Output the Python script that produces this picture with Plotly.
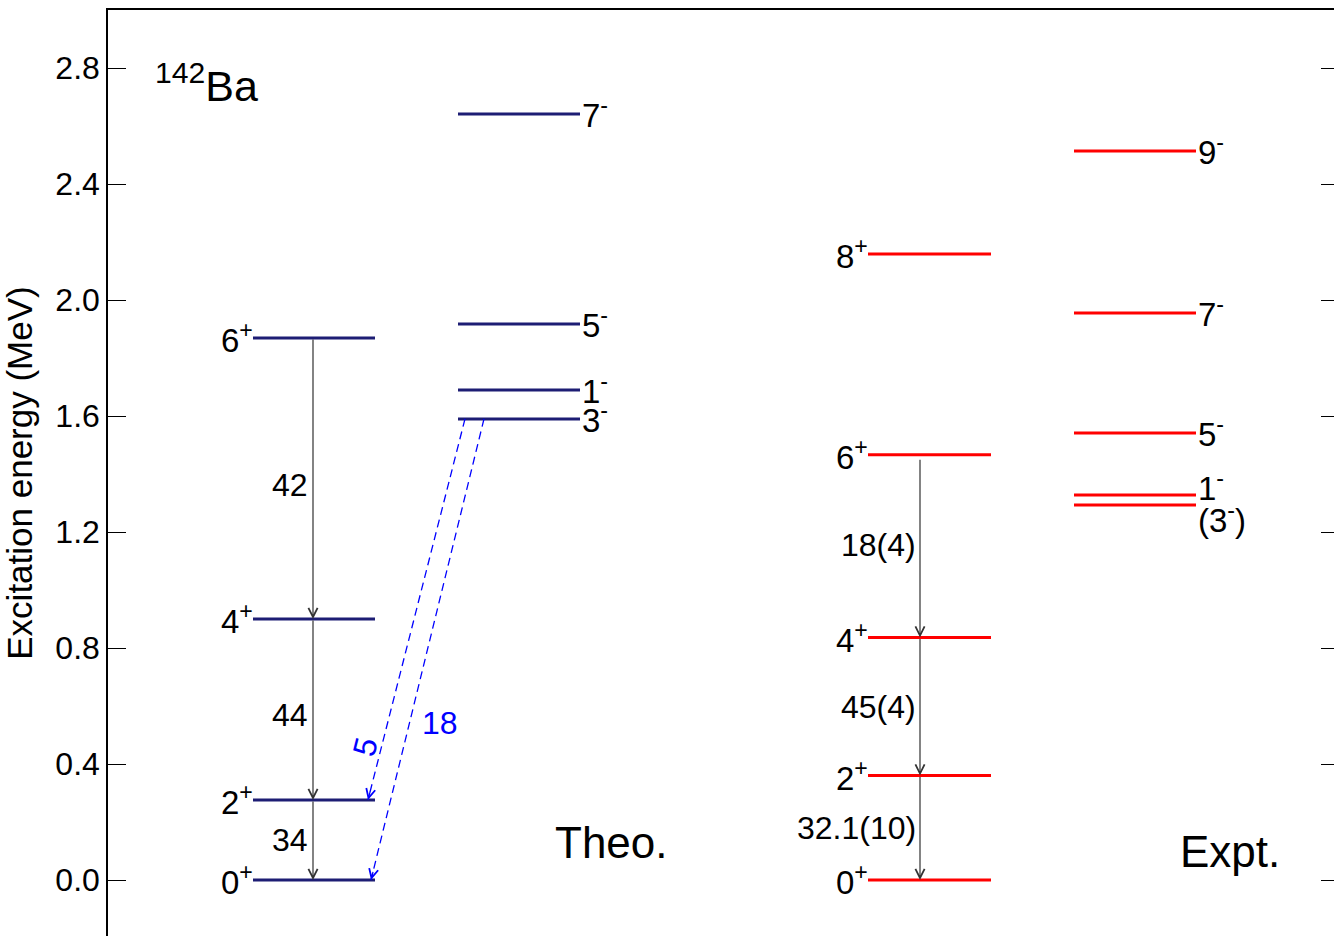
import math
import plotly.graph_objects as go

# ---------------- data ----------------
theo_gsb_spins = ["0", "2", "4", "6"]
theo_gsb_E = [0.0, 0.276, 0.900, 1.869]
theo_neg_spins = ["3", "1", "5", "7"]
theo_neg_E = [1.590, 1.690, 1.917, 2.641]

expt_gsb_spins = ["0", "2", "4", "6", "8"]
expt_gsb_E = [0.0, 0.360, 0.836, 1.466, 2.159]
expt_neg_spins = ["(3)", "1", "5", "7", "9"]
expt_neg_E = [1.293, 1.328, 1.541, 1.955, 2.514]

theo_BE2 = ["34", "44", "42"]            # 2+->0+, 4+->2+, 6+->4+
expt_BE2 = ["32.1(10)", "45(4)", "18(4)"]
theo_E1 = ["5", "18"]                    # 3- -> 2+, 3- -> 0+

y_ticks = [0.0, 0.4, 0.8, 1.2, 1.6, 2.0, 2.4, 2.8]
y_ticktext = ["0.0", "0.4", "0.8", "1.2", "1.6", "2.0", "2.4", "2.8"]

# ---------------- layout constants ----------------
W, H = 1334, 936
ML, MT = 108, 10
X_RANGE = [0, 12.26]
Y_RANGE = [-0.1931, 3.0]
PX_X = (W - ML) / (X_RANGE[1] - X_RANGE[0])
PX_Y = (H - MT) / (Y_RANGE[1] - Y_RANGE[0])

FONT = "Liberation Sans, Arial, Helvetica, sans-serif"
NAVY = "#1d1d74"
RED = "#ff0000"
BLUE = "#0000ff"
ARROW = "#333333"

COL_THEO_GSB = (1.45, 2.67)
COL_THEO_NEG = (3.50, 4.72)
COL_EXPT_GSB = (7.60, 8.83)
COL_EXPT_NEG = (9.66, 10.88)
X_THEO_ARR = 2.05
X_EXPT_ARR = 8.12

fig = go.Figure()
ann = []


def sup(spin, parity):
    if spin.startswith("("):
        return "(" + spin[1:-1] + "<sup>" + parity + "</sup>)"
    return spin + "<sup>" + parity + "</sup>"


def add_levels(energies, spins, col, color, parity, label_side, yshifts=None):
    for i, (e, s) in enumerate(zip(energies, spins)):
        fig.add_trace(go.Scatter(x=[col[0], col[1]], y=[e, e], mode="lines",
                                 line=dict(color=color, width=3),
                                 hoverinfo="skip", showlegend=False))
        ys = yshifts.get(s, 0) if yshifts else 0
        if label_side == "left":
            ann.append(dict(x=col[0], y=e, xref="x", yref="y", text=sup(s, parity),
                            showarrow=False, xanchor="right", yanchor="middle",
                            yshift=0 + ys, xshift=2,
                            font=dict(family=FONT, size=33, color="black")))
        else:
            ann.append(dict(x=col[1], y=e, xref="x", yref="y", text=sup(s, parity),
                            showarrow=False, xanchor="left", yanchor="middle",
                            yshift=1 + ys, xshift=0,
                            font=dict(family=FONT, size=33, color="black")))


add_levels(theo_gsb_E, theo_gsb_spins, COL_THEO_GSB, NAVY, "+", "left")
add_levels(theo_neg_E, theo_neg_spins, COL_THEO_NEG, NAVY, "-", "right")
add_levels(expt_gsb_E, expt_gsb_spins, COL_EXPT_GSB, RED, "+", "left")
add_levels(expt_neg_E, expt_neg_spins, COL_EXPT_NEG, RED, "-", "right",
           yshifts={"1": 8, "(3)": -14})


# E2 cascades (black arrows)
def cascade(energies, labels, xarr, start_gap, lab_gap, lab_shifts):
    for i in range(3):
        lo, hi = energies[i], energies[i + 1]
        tail = hi - (start_gap if i == 2 else 0)
        ann.append(dict(x=xarr, y=lo, ax=xarr, ay=tail, xref="x", yref="y",
                        axref="x", ayref="y", text="", showarrow=True,
                        arrowhead=5, arrowsize=1.5, arrowwidth=1.2,
                        arrowcolor=ARROW, standoff=0, startstandoff=0))
        ann.append(dict(x=xarr - lab_gap, y=(lo + hi) / 2, xref="x", yref="y",
                        text=labels[i], showarrow=False, xanchor="right",
                        yanchor="middle", yshift=lab_shifts[i],
                        font=dict(family=FONT, size=32, color="black")))


cascade(theo_gsb_E, theo_BE2, X_THEO_ARR, 0.0, 0.03, [0, -6, -6])
cascade(expt_gsb_E, expt_BE2, X_EXPT_ARR, 0.012, 0.02, [0, 0, 1])

# E1 transitions (blue dashed)
e3 = theo_neg_E[0]
starts = [COL_THEO_NEG[0] + 0.07, COL_THEO_NEG[0] + 0.26]
ends = [(COL_THEO_GSB[1] - 0.07, theo_gsb_E[1]), (COL_THEO_GSB[1] - 0.04, theo_gsb_E[0])]
for k in range(2):
    x0, y0 = starts[k], e3
    x1, y1 = ends[k]
    fig.add_trace(go.Scatter(x=[x0, x1], y=[y0, y1], mode="lines",
                             line=dict(color=BLUE, width=1.3, dash="8px,5px"),
                             hoverinfo="skip", showlegend=False))
    dxp = (x0 - x1) * PX_X
    dyp = -(y0 - y1) * PX_Y
    L = math.hypot(dxp, dyp)
    ann.append(dict(x=x1, y=y1, xref="x", yref="y", ax=dxp / L * 10, ay=dyp / L * 10,
                    text="", showarrow=True, arrowhead=5, arrowsize=1.5,
                    arrowwidth=1.2, arrowcolor=BLUE, standoff=0))

# E1 labels
ang = -math.degrees(math.atan2((e3 - theo_gsb_E[1]) * PX_Y,
                               (starts[0] - ends[0][0]) * PX_X))
ann.append(dict(x=2.57, y=0.46, xref="x", yref="y", text=theo_E1[0], showarrow=False,
                textangle=ang, font=dict(family=FONT, size=32, color=BLUE)))
ann.append(dict(x=3.12, y=0.54, xref="x", yref="y", text=theo_E1[1], showarrow=False,
                xanchor="left", font=dict(family=FONT, size=32, color=BLUE)))

# titles inside plot
ann.append(dict(x=4.45, y=0.131, xref="x", yref="y", text="Theo.", showarrow=False,
                xanchor="left", yanchor="middle",
                font=dict(family=FONT, size=44, color="black")))
ann.append(dict(x=10.70, y=0.097, xref="x", yref="y", text="Expt.", showarrow=False,
                xanchor="left", yanchor="middle",
                font=dict(family=FONT, size=44, color="black")))
ann.append(dict(x=0.45, y=2.75, xref="x", yref="y", text="<sup>142</sup>Ba",
                showarrow=False, xanchor="left", yanchor="middle",
                font=dict(family=FONT, size=43, color="black")))

# invisible trace to anchor the right tick axis
fig.add_trace(go.Scatter(x=[0], y=[0], yaxis="y2", mode="markers",
                         marker=dict(opacity=0), hoverinfo="skip", showlegend=False))

fig.update_layout(
    width=W, height=H,
    margin=dict(l=ML, r=0, t=MT, b=0, pad=0),
    paper_bgcolor="white", plot_bgcolor="white",
    showlegend=False,
    annotations=ann,
    xaxis=dict(range=X_RANGE, showgrid=False, zeroline=False, showticklabels=False,
               ticks="", showline=True, linecolor="black", linewidth=1.5, side="top",
               fixedrange=True),
    yaxis=dict(range=Y_RANGE, showgrid=False, zeroline=False, tickvals=y_ticks,
               ticktext=y_ticktext, ticks="inside", ticklen=18, tickwidth=1,
               tickcolor="black", showline=True, linecolor="black", linewidth=1.5,
               ticklabelstandoff=0,
               tickfont=dict(family=FONT, size=32, color="black"),
               title=dict(text="Excitation energy (MeV)", standoff=12,
                          font=dict(family=FONT, size=35, color="black"))),
    yaxis2=dict(range=Y_RANGE, overlaying="y", side="right", showgrid=False,
                zeroline=False, tickvals=y_ticks, ticks="inside", ticklen=13,
                tickwidth=1, tickcolor="black", showticklabels=False, showline=False),
)

fig.write_html("out.html")
